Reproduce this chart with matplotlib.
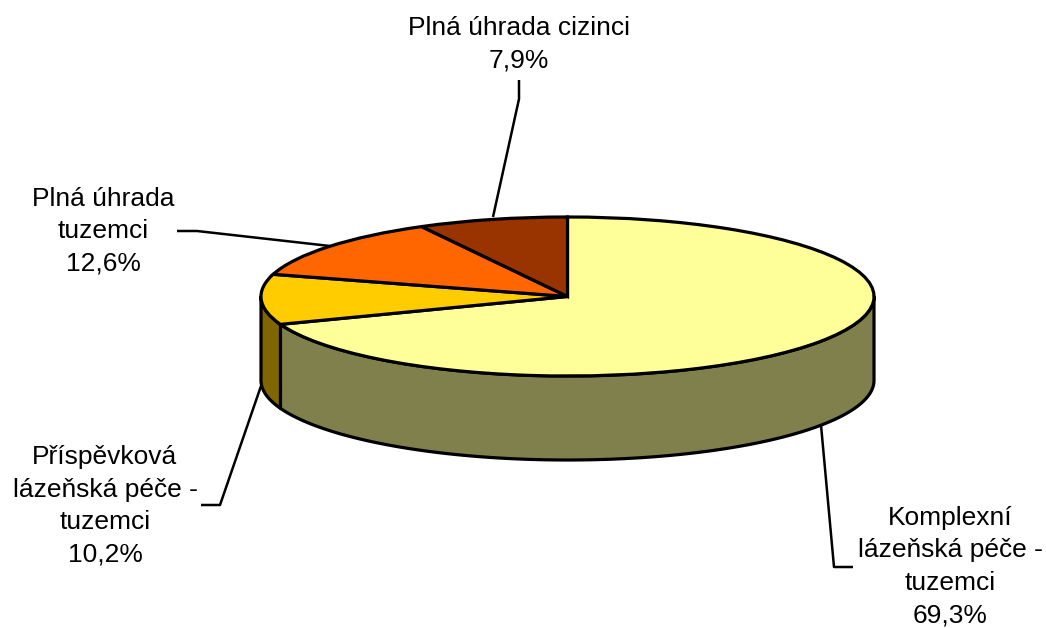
#!/usr/bin/env python3
# -*- coding: utf-8 -*-
"""3D-look pie of spa patient shares: squashed pie plus side walls."""
import numpy as np
import matplotlib
matplotlib.use('Agg')
import matplotlib.pyplot as plt

plt.rcParams['font.family'] = ['Liberation Sans', 'DejaVu Sans']

# clockwise from 12 o'clock
CATEGORIES = ['Komplexní\nlázeňská péče -\ntuzemci', 'Příspěvková\nlázeňská péče -\ntuzemci',
              'Plná úhrada\ntuzemci', 'Plná úhrada cizinci']
SHARES = [69.3, 10.2, 12.6, 7.9]
TOP_COLORS = ['#FFFF99', '#FFCC00', '#FF6600', '#993300']
WALL_COLORS = ['#80804D', '#806600', '#803300', '#4D1A00']
LABEL_POS = [(950, 566.5), (105, 506), (103, 231), (519, 44)]
LEADERS = [[(853, 567), (834, 567), (821, 425)],
           [(201, 505), (220, 505), (261, 386)],
           [(177, 231), (197, 231), (330, 246)],
           [(519, 80), (519, 99), (493, 217)]]

W, H = 1046, 628
CX, CY, RX, RY = 567.5, 296.5, 306.5, 79.5
DEPTH = 84 / RY   # wall height in pie units
LW = 2.3

fig = plt.figure(figsize=(W / 100, H / 100), dpi=100)

# pie axes: unit circle maps onto the ellipse
ax = fig.add_axes([(CX - RX) / W, 1 - (CY + RY) / H, 2 * RX / W, 2 * RY / H])
ax.set_aspect('auto')

# side walls, only the part of each slice facing the viewer
edges = 90 - np.cumsum([0] + SHARES) * 3.6
for i, col in enumerate(WALL_COLORS):
    a0, a1 = edges[i + 1] % 360, edges[i] % 360
    if a1 <= a0:
        a1 += 360
    lo, hi = max(a0, 180), min(a1, 360)
    if hi <= lo:
        continue
    t = np.radians(np.linspace(lo, hi, 200))
    x, y = np.cos(t), np.sin(t)
    ax.fill(np.r_[x, x[::-1]], np.r_[y, y[::-1] - DEPTH], fc=col, ec='black', lw=LW,
            joinstyle='round', clip_on=False, zorder=1)

ax.pie(SHARES, colors=TOP_COLORS, startangle=90, counterclock=False, radius=1,
       wedgeprops=dict(edgecolor='black', linewidth=LW, clip_on=False, zorder=2))
ax.set_aspect('auto')
ax.set_xlim(-1, 1)
ax.set_ylim(-1, 1)
ax.axis('off')

# overlay in pixel coordinates for labels and leader lines
ov = fig.add_axes([0, 0, 1, 1], facecolor='none')
ov.set_xlim(0, W)
ov.set_ylim(H, 0)
ov.axis('off')
for name, share, pos, pts in zip(CATEGORIES, SHARES, LABEL_POS, LEADERS):
    xs, ys = zip(*pts)
    ov.plot(xs, ys, color='black', lw=1.8, solid_capstyle='butt')
    txt = name + '\n' + f'{share:.1f}%'.replace('.', ',')
    ov.text(pos[0], pos[1], txt, ha='center', va='center', fontsize=19, color='black',
            linespacing=1.44)

fig.savefig('out.png', dpi=100)
plt.close(fig)
